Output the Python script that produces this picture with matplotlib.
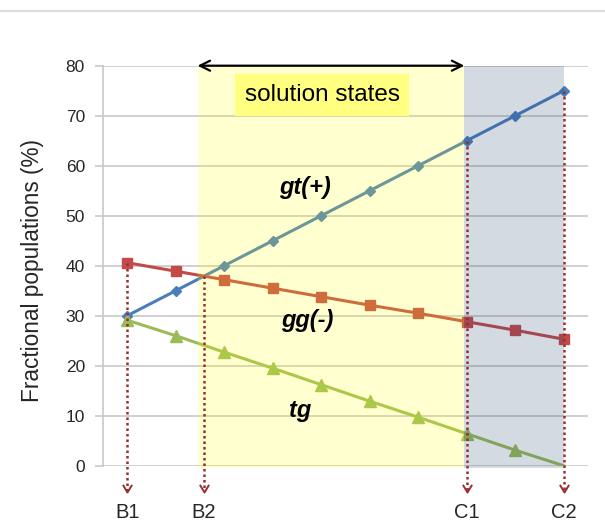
import matplotlib
matplotlib.use("Agg")
import matplotlib.pyplot as plt
import numpy as np
from matplotlib.path import Path
from matplotlib.lines import Line2D
from matplotlib.patches import Rectangle

plt.rcParams['font.family'] = ['Liberation Sans', 'DejaVu Sans']

# Conformer populations along the sampled states (%)
states = np.arange(10)
gt_plus = [30, 35, 40, 45, 50, 55, 60, 65, 70, 75]
gg_minus = [40.6, 38.9, 37.2, 35.5, 33.8, 32.1, 30.5, 28.8, 27.1, 25.3]
tg = [29.1, 26.0, 22.7, 19.5, 16.2, 12.9, 9.7, 6.4, 3.1, 0.0]

y_ticks = [0, 10, 20, 30, 40, 50, 60, 70, 80]
marker_labels = ['B1', 'B2', 'C1', 'C2']
solution_range = (1.45, 6.95)
upper_range = (6.95, 9.0)

c_blue = '#4a7ebb'
c_red = '#c44a4a'
c_green = '#9bbb59'
c_grid = '#c8c8c8'
c_drop = '#9b2d2d'

fig = plt.figure(figsize=(6.05, 5.26), dpi=100)
ax = fig.add_axes([103 / 605, 1 - 465.7 / 526, 485 / 605, 400 / 526])
ax.set_xlim(-0.5, 9.5)
ax.set_ylim(0, 80)

# thin rule across the top of the figure
fig.add_artist(Line2D([0, 1], [1 - 11 / 526] * 2, color='#dcdcdc', lw=1.6,
                      transform=fig.transFigure))

ax.set_yticks(y_ticks)
ax.set_xticks([])
ax.yaxis.grid(True, color=c_grid, lw=1.2)
ax.set_axisbelow(True)
for s in ['top', 'right', 'bottom']:
    ax.spines[s].set_visible(False)
ax.spines['left'].set_color(c_grid)
ax.spines['left'].set_linewidth(1.2)
ax.tick_params(axis='y', length=6, width=1.2, color=c_grid, pad=7,
               labelsize=12.5, labelcolor='#262626')

# series
ax.plot(states, gt_plus, color=c_blue, lw=2.2, marker='D', ms=5.6, zorder=3)
ax.plot(states, gg_minus, color=c_red, lw=2.2, marker='s', ms=7.8, zorder=3)
ax.plot(states, tg, color=c_green, lw=2.2, marker='^', ms=9.0,
        markevery=list(range(9)), zorder=3)

# shaded regions laid over the curves
ax.add_patch(Rectangle((solution_range[0], -0.45), solution_range[1] - solution_range[0], 80.45,
                       facecolor='#ffff00', alpha=0.19, lw=0, zorder=4, clip_on=False))
ax.add_patch(Rectangle((upper_range[0], -0.45), upper_range[1] - upper_range[0], 80.45,
                       facecolor='#1f3f6a', alpha=0.19, lw=0, zorder=4, clip_on=False))

# crossing of gt(+) and gg(-)
diff = np.array(gt_plus) - np.array(gg_minus)
k = int(np.where(np.diff(np.sign(diff)) != 0)[0][0])
t = -diff[k] / (diff[k + 1] - diff[k])
x_cross = states[k] + t
y_cross = gt_plus[k] + t * (gt_plus[k + 1] - gt_plus[k])

drops = [(states[0], gg_minus[0]), (x_cross, y_cross),
         (states[7], gt_plus[7]), (states[9], gt_plus[9])]
chevron = Path([(-0.6, 1.0), (0.0, 0.0), (0.6, 1.0)],
               [Path.MOVETO, Path.LINETO, Path.LINETO])
for (xd, yd), lab in zip(drops, marker_labels):
    ax.plot([xd, xd], [yd, -5.0], color=c_drop, lw=1.8, ls=(0, (1, 1.2)),
            clip_on=False, zorder=5)
    ax.plot([xd], [-5.2], marker=chevron, ms=11, mew=1.4, mec=c_drop,
            mfc='none', clip_on=False, zorder=5)
    ax.text(xd, -9.3, lab, ha='center', va='center', fontsize=14.5,
            color='#262626', clip_on=False)

# double-headed arrow spanning the solution states
ax.annotate('', xy=(solution_range[0], 80), xytext=(solution_range[1], 80),
            arrowprops=dict(arrowstyle='<->', color='black', lw=1.6,
                            mutation_scale=18, shrinkA=0, shrinkB=0),
            annotation_clip=False, zorder=6)
ax.text(4.02, 74.1, 'solution states', ha='center', va='center', fontsize=17.5,
        color='black', zorder=6,
        bbox=dict(boxstyle='square,pad=0.4', facecolor='#ffff80', edgecolor='none'))

# curve labels
lab_kw = dict(fontsize=17, fontweight='bold', fontstyle='italic', color='black',
              ha='center', va='center', zorder=6)
ax.text(3.67, 55.6, 'gt(+)', **lab_kw)
ax.text(3.72, 29.1, 'gg(-)', **lab_kw)
ax.text(3.56, 11.0, 'tg', **lab_kw)

fig.text(33 / 605, 1 - 270 / 526, 'Fractional populations (%)', rotation=90,
         ha='center', va='center', fontsize=16.3, color='#262626')

fig.savefig('out.png', dpi=100)
